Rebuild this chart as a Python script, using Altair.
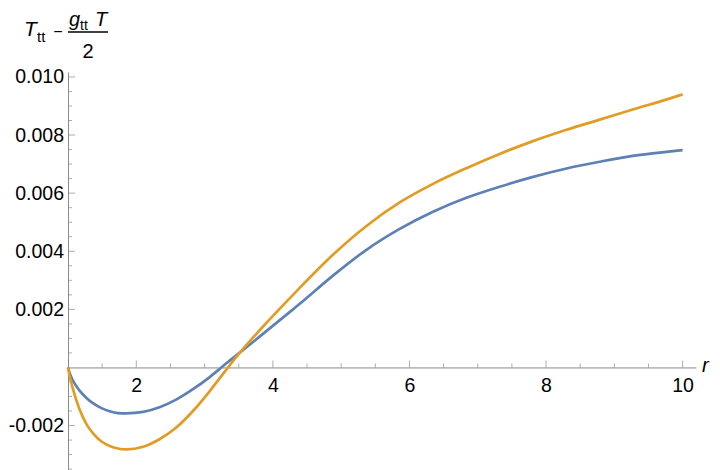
import altair as alt
import pandas as pd

# radial coordinate samples
r_vals = [1.0, 1.035, 1.07, 1.17, 1.27, 1.37, 1.49, 1.61, 1.73, 1.855, 2.10, 2.34, 2.59,
          2.83, 3.07, 3.245, 3.343, 3.51, 3.81, 4.295, 4.393, 4.88, 5.37, 5.857, 6.345,
          6.834, 7.32, 7.81, 8.30, 8.786, 9.27, 9.76, 10.0]
blue_vals = [0.0, -0.00026, -0.00044, -0.00080, -0.00105, -0.00124, -0.00140, -0.00151,
             -0.00157, -0.00158, -0.00153, -0.00137, -0.00110, -0.00075, -0.00034, 0.0,
             0.00019, 0.00050, 0.00107, 0.00200, 0.00219, 0.00316, 0.00405, 0.00477,
             0.00536, 0.00584, 0.00622, 0.00656, 0.00685, 0.00708, 0.00728, 0.00742,
             0.00748]
orange_vals = [0.0, -0.00040, -0.00072, -0.00145, -0.00195, -0.00228, -0.00255, -0.00270,
               -0.00279, -0.00282, -0.00273, -0.00247, -0.00206, -0.00150, -0.00083,
               -0.00030, 0.0, 0.00049, 0.00129, 0.00250, 0.00274, 0.00388, 0.00487,
               0.00568, 0.00632, 0.00686, 0.00735, 0.00779, 0.00818, 0.00853, 0.00888,
               0.00922, 0.00940]
series_names = ["a", "b"]

x_major = [2, 4, 6, 8, 10]
x_minor = [1.5, 2.5, 3, 3.5, 4.5, 5, 5.5, 6.5, 7, 7.5, 8.5, 9, 9.5]
y_labels = [-0.002, 0.002, 0.004, 0.006, 0.008, 0.010]
y_major = [-0.002, 0.002, 0.004, 0.006, 0.008, 0.010]
y_minor = [-0.0035, -0.003, -0.0025, -0.0015, -0.001, -0.0005, 0.0005, 0.001, 0.0015,
           0.0025, 0.003, 0.0035, 0.0045, 0.005, 0.0055, 0.0065, 0.007, 0.0075,
           0.0085, 0.009, 0.0095]

X_DOMAIN = [1.0, 10.196]
Y_DOMAIN = [-0.00353, 0.01017]
W, H = 628, 398
BLUE = "#5E81B5"
ORANGE = "#E19C24"
AXC = "#8a8a8a"
FONT = "Liberation Sans"

rows = []
for r, b, o in zip(r_vals, blue_vals, orange_vals):
    rows.append({"r": r, "v": b, "s": series_names[0]})
    rows.append({"r": r, "v": o, "s": series_names[1]})
df = pd.DataFrame(rows)

xs = alt.Scale(domain=X_DOMAIN, zero=False, nice=False)
ys = alt.Scale(domain=Y_DOMAIN, zero=False, nice=False)
x_off = -(H * (0 - Y_DOMAIN[0]) / (Y_DOMAIN[1] - Y_DOMAIN[0]))

lines = alt.Chart(df).mark_line(strokeWidth=2.7, interpolate="monotone").encode(
    x=alt.X("r:Q", scale=xs,
            axis=alt.Axis(values=x_major, format="d", offset=x_off, ticks=False, tickSize=0,
                          grid=False, title=None, domainColor=AXC, labelColor="black",
                          labelFont=FONT, labelFontSize=19.5, labelPadding=9,
                          labelFlush=False)),
    y=alt.Y("v:Q", scale=ys,
            axis=alt.Axis(values=y_labels, format=".3f", ticks=False, tickSize=0,
                          grid=False, title=None, domainColor=AXC, labelColor="black",
                          labelFont=FONT, labelFontSize=19.5, labelPadding=4.5,
                          labelFlush=False,
                          labelExpr="replace(datum.label, '\u2212', '-')")),
    color=alt.Color("s:N", scale=alt.Scale(domain=series_names, range=[BLUE, ORANGE]),
                    legend=None),
    order=alt.Order("s:N"),
)

tx_major = alt.Chart(pd.DataFrame({"r": x_major})).mark_tick(
    orient="vertical", size=7, thickness=1, yOffset=-3.5, color=AXC
).encode(x=alt.X("r:Q", scale=xs), y=alt.datum(0))
tx_minor = alt.Chart(pd.DataFrame({"r": x_minor})).mark_tick(
    orient="vertical", size=4, thickness=1, yOffset=-2, color=AXC
).encode(x=alt.X("r:Q", scale=xs), y=alt.datum(0))
ty_major = alt.Chart(pd.DataFrame({"v": y_major})).mark_tick(
    orient="horizontal", size=7, thickness=1, xOffset=3.5, color=AXC
).encode(y=alt.Y("v:Q", scale=ys), x=alt.datum(1.0))
ty_minor = alt.Chart(pd.DataFrame({"v": y_minor})).mark_tick(
    orient="horizontal", size=4, thickness=1, xOffset=2, color=AXC
).encode(y=alt.Y("v:Q", scale=ys), x=alt.datum(1.0))

# plot origin is at page (68, 72)
def label(text, px, py, size, italic=False, align="left"):
    return alt.Chart(pd.DataFrame({"t": [text]})).mark_text(
        font=FONT, fontSize=size, fontStyle="italic" if italic else "normal",
        align=align, baseline="alphabetic", color="black"
    ).encode(x=alt.value(px - 68), y=alt.value(py - 72), text="t:N")

title_parts = [
    label("T", 24, 36, 21, italic=True),
    label("tt", 37, 42, 15),
    label("\u2212", 58, 37, 16, align="center"),
    label("g", 69, 26, 20, italic=True),
    label("tt", 80, 30, 14),
    label("T", 95, 26, 20, italic=True),
    label("2", 88, 58, 20, align="center"),
    label("r", 702, 372, 20, italic=True),
]
bar = alt.Chart(pd.DataFrame({"a": [0]})).mark_rule(color="black", strokeWidth=1.3).encode(
    x=alt.value(68 - 68), x2=alt.value(108 - 68), y=alt.value(32 - 72)
)

chart = alt.layer(
    tx_minor, tx_major, ty_minor, ty_major, lines, bar, *title_parts
).properties(
    width=W, height=H,
    autosize=alt.AutoSizeParams(type="none"),
    padding={"left": 60, "top": 64, "right": 16, "bottom": 0},
).configure_view(stroke=None)

chart.save("out.html", embed_options={"renderer": "svg", "actions": False})
